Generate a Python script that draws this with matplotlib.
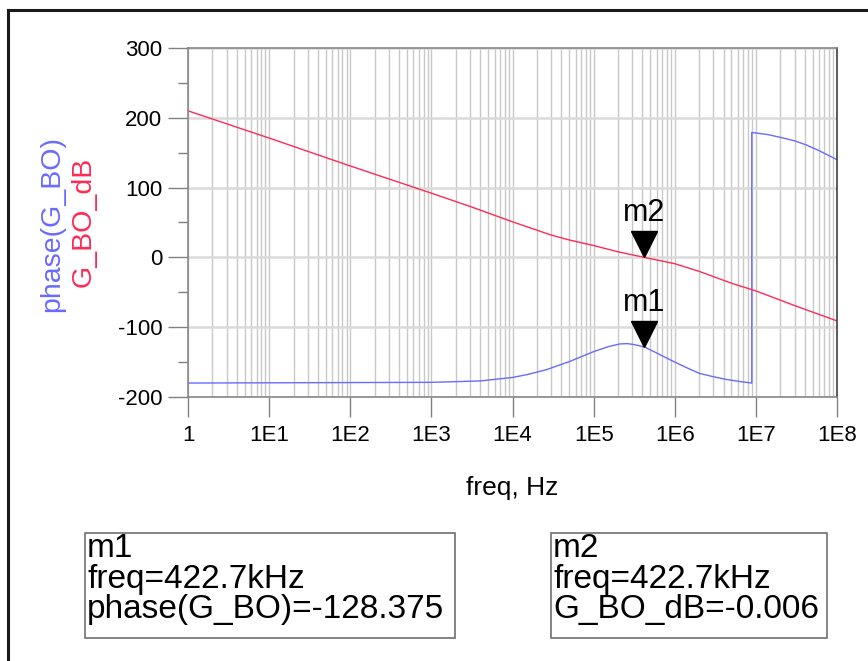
import numpy as np
import matplotlib.pyplot as plt
import matplotlib.transforms as mtransforms
from matplotlib.ticker import FixedLocator, LogLocator, NullFormatter
from matplotlib.lines import Line2D
from matplotlib.patches import Rectangle

plt.rcParams["font.family"] = ["Liberation Sans", "DejaVu Sans"]
plt.rcParams["axes.unicode_minus"] = False

# G_BO_dB
freq_db = [1, 10, 100, 1e3, 3e3, 1e4, 2e4, 3e4, 5e4, 1e5, 2e5, 4.227e5,
           1e6, 2e6, 5e6, 1e7, 3e7, 1e8]
g_bo_db = [210, 171, 131, 92, 73, 51, 39, 32, 25, 17, 8, 0,
           -9, -20, -37, -48, -69, -91]

# phase(G_BO), with the wrap near 8.9 MHz
freq_ph = [1, 1e3, 4e3, 1e4, 1.5e4, 2.6e4, 5.1e4, 1e5, 1.5e5, 2.1e5, 2.6e5,
           3.2e5, 4.227e5, 6e5, 9.6e5, 1.4e6, 2e6, 3e6, 4.4e6, 6.5e6, 8.9e6,
           8.9e6, 1.4e7, 2e7, 3e7, 4.2e7, 6e7, 1e8]
phase = [-180, -179, -177, -172, -168, -161, -149, -135, -128, -124, -123.5,
         -125, -128.4, -137, -149, -158, -166, -171, -175, -178, -180,
         179, 176, 172, 167, 161, 153, 140]

m1 = (4.227e5, -128.375)
m2 = (4.227e5, -0.006)

x_ticks = [1, 1e1, 1e2, 1e3, 1e4, 1e5, 1e6, 1e7, 1e8]
x_labels = ["1", "1E1", "1E2", "1E3", "1E4", "1E5", "1E6", "1E7", "1E8"]
y_ticks = [-200, -100, 0, 100, 200, 300]

blue = "#6a6aff"
red = "#ff2a55"

W, H = 868, 661
fig = plt.figure(figsize=(W / 100, H / 100), dpi=100)
ax = fig.add_axes([188 / W, 1 - 397 / H, 649 / W, 349 / H])

ax.plot(freq_ph, phase, color=blue, lw=1.0)
ax.plot(freq_db, g_bo_db, color=red, lw=1.0)

ax.set_xscale("log")
ax.set_xlim(1, 1e8)
ax.set_ylim(-200, 300)

ax.xaxis.set_major_locator(FixedLocator(x_ticks))
ax.set_xticklabels(x_labels)
ax.xaxis.set_minor_locator(LogLocator(base=10, subs=np.arange(2, 10), numticks=100))
ax.xaxis.set_minor_formatter(NullFormatter())
ax.set_yticks(y_ticks)
ax.set_yticks([-150, -50, 50, 150, 250], minor=True)

ax.tick_params(axis="both", which="major", direction="out", length=14.4, width=1,
               color="#808080", labelsize=16, pad=4)
ax.tick_params(axis="y", which="minor", direction="out", length=7.2, width=1,
               color="#808080")
ax.tick_params(axis="x", which="minor", length=0)
ax.tick_params(axis="x", which="major", pad=5.5)

ax.grid(True, axis="x", which="both", color="#c8c8c8", lw=1)
ax.grid(True, axis="y", which="major", color="#dadada", lw=1.8)
ax.set_axisbelow(True)
for s in ax.spines.values():
    s.set_color("#888888")
    s.set_linewidth(1.2)
ax.spines["right"].set_color("#404040")

fig.text(512 / W, 1 - 495 / H, "freq, Hz", fontsize=19, ha="center", va="baseline")

# two coloured y labels
fig.text(52 / W, 1 - 224 / H, "phase(G_BO)", color=blue, fontsize=20.5,
         rotation=90, ha="center", va="center")
fig.text(84 / W, 1 - 222 / H, "G_BO_dB", color=red, fontsize=20.5,
         rotation=90, ha="center", va="center")

# markers: triangle tip on the data point
tip_shift = mtransforms.ScaledTranslation(0, 13 / 100, fig.dpi_scale_trans)
for name, (fx, fy) in [("m1", m1), ("m2", m2)]:
    ax.plot([fx], [fy], marker="v", markersize=19, color="black",
            transform=ax.transData + tip_shift, clip_on=False)
    ax.annotate(name, xy=(fx, fy), xytext=(0, 29), textcoords="offset pixels",
                ha="center", va="bottom", fontsize=22)

# marker readout boxes
boxes = [
    ((85, 533, 370, 105), "m1\nfreq=422.7kHz\nphase(G_BO)=-128.375"),
    ((551, 533, 276, 105), "m2\nfreq=422.7kHz\nG_BO_dB=-0.006"),
]
for (bx, by, bw, bh), txt in boxes:
    fig.patches.append(Rectangle((bx / W, 1 - (by + bh) / H), bw / W, bh / H,
                                 transform=fig.transFigure, fill=False,
                                 edgecolor="#707070", lw=1.2))
    fig.text((bx + 2) / W, 1 - by / H, txt, fontsize=24, ha="left",
             va="top", linespacing=0.98)

# outer frame (left and top edges visible)
fig.lines.append(Line2D([8 / W, 8 / W], [0, 1 - 10 / H], transform=fig.transFigure,
                        color="#1a1a1a", lw=2.2))
fig.lines.append(Line2D([8 / W, 1], [1 - 10 / H, 1 - 10 / H], transform=fig.transFigure,
                        color="#1a1a1a", lw=2.2))

fig.savefig("out.png", dpi=100)
